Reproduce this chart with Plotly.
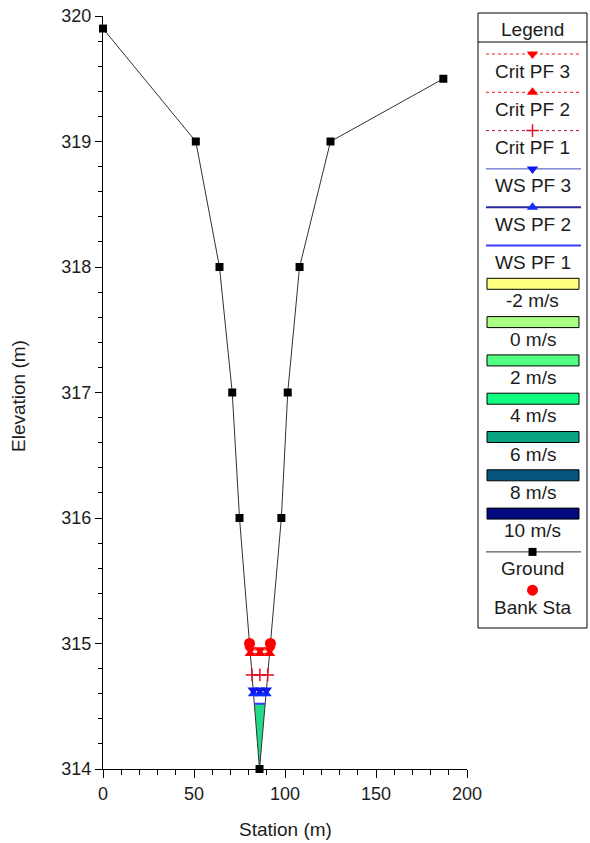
import numpy as np
import plotly.graph_objects as go

W, H = 590, 843

# Cross-section geometry
ground_station = [0, 51, 64, 71, 75, 86, 98, 101.5, 108, 125, 187]
ground_elev = [319.9, 319.0, 318.0, 317.0, 316.0, 314.0, 316.0, 317.0, 318.0, 319.0, 319.5]
bank_station = [80.5, 92.0]

# Computed water surfaces
ws_profiles = ["WS PF 1", "WS PF 2", "WS PF 3"]
ws_elev = [314.52, 314.60, 314.63]
crit_profiles = ["Crit PF 1", "Crit PF 2", "Crit PF 3"]
crit_elev = [314.75, 314.92, 314.95]

# Velocity colour scale
velocity_labels = ["-2 m/s", "0 m/s", "2 m/s", "4 m/s", "6 m/s", "8 m/s", "10 m/s"]
velocity_colors = ["#ffff80", "#a8ff80", "#50ff80", "#10ff80", "#08a482", "#05557f", "#020a7e"]
flow_fill_color = "#24d98a"

x_ticks = [0, 50, 100, 150, 200]
y_ticks = [314, 315, 316, 317, 318, 319, 320]

FONT = "Liberation Sans, Arial, Helvetica, sans-serif"
TXT = "#1c1c1c"
TICK_SIZE = 18
TEXT_SIZE = 19

gs = np.array(ground_station, dtype=float)
ge = np.array(ground_elev, dtype=float)
i0 = int(np.argmin(ge))


def wet_edges(z):
    left = np.interp(z, ge[:i0 + 1][::-1], gs[:i0 + 1][::-1])
    right = np.interp(z, ge[i0:], gs[i0:])
    return left, right


styles = {
    "Crit PF 3": dict(line=dict(color="#ff1010", width=1, dash="dot"),
                      marker=dict(symbol="triangle-down", size=10, color="#ff0000")),
    "Crit PF 2": dict(line=dict(color="#ff1010", width=1, dash="dot"),
                      marker=dict(symbol="triangle-up", size=10, color="#ff0000")),
    "Crit PF 1": dict(line=dict(color="#b0103c", width=1, dash="dot"),
                      marker=dict(symbol="cross-thin", size=9, color="#e01020",
                                  line=dict(color="#e01020", width=1.5))),
    "WS PF 3": dict(line=dict(color="#3848c0", width=1),
                    marker=dict(symbol="triangle-down", size=10, color="#1018e8")),
    "WS PF 2": dict(line=dict(color="#2a2aa0", width=2),
                    marker=dict(symbol="triangle-up", size=10, color="#1030ff")),
    "WS PF 1": dict(line=dict(color="#3c3cff", width=2), marker=None),
}

fig = go.Figure()

# Wetted area for the lowest profile
z1 = ws_elev[0]
l1, r1 = wet_edges(z1)
below = ge < z1
fx = [l1] + list(gs[below]) + [r1, l1]
fy = [z1] + list(ge[below]) + [z1, z1]
fig.add_trace(go.Scatter(x=fx, y=fy, mode="lines", fill="toself",
                         fillcolor=flow_fill_color, line=dict(width=0),
                         showlegend=False, hoverinfo="skip"))

# Ground profile
fig.add_trace(go.Scatter(x=ground_station, y=ground_elev, mode="lines+markers",
                         line=dict(color="#303030", width=1),
                         marker=dict(symbol="square", size=8, color="#000000"),
                         cliponaxis=False, showlegend=False))

# Water surface lines with end and mid markers
for name, z in list(zip(ws_profiles, ws_elev)) + list(zip(crit_profiles, crit_elev)):
    lft, rgt = wet_edges(z)
    st = styles[name]
    xs = [lft, (lft + rgt) / 2, rgt]
    ln = dict(st["line"])
    if "dash" in ln:
        ln["dash"] = "solid"
    if st["marker"] is None:
        fig.add_trace(go.Scatter(x=[lft, rgt], y=[z, z], mode="lines", line=ln,
                                 showlegend=False, cliponaxis=False))
    else:
        fig.add_trace(go.Scatter(x=xs, y=[z, z, z], mode="lines+markers", line=ln,
                                 marker=st["marker"], showlegend=False, cliponaxis=False))

# Bank stations
bank_elev = np.interp(bank_station, gs, ge)
fig.add_trace(go.Scatter(x=bank_station, y=bank_elev, mode="markers",
                         marker=dict(symbol="circle", size=11, color="#ff0000"),
                         cliponaxis=False, showlegend=False))

# ---- Legend panel (drawn on a pixel-space overlay axis) ----
legend_labels = ["Crit PF 3", "Crit PF 2", "Crit PF 1", "WS PF 3", "WS PF 2", "WS PF 1"] \
    + velocity_labels + ["Ground", "Bank Sta"]
lx0, lx1, ly0, ly1 = 478, 587, 13, 628
sx0, sx1 = 486, 581
cx = (lx0 + lx1) / 2
row0, step = 54, 38.3

shapes = [
    dict(type="rect", xref="x2", yref="y2", x0=lx0, x1=lx1, y0=ly0, y1=ly1,
         line=dict(color="#000", width=1), fillcolor="rgba(255,255,255,0)"),
    dict(type="line", xref="x2", yref="y2", x0=lx0, x1=lx1, y0=42, y1=42,
         line=dict(color="#000", width=1)),
]
annotations = [
    dict(xref="x2", yref="y2", x=cx, y=29, text="Legend", showarrow=False,
         font=dict(family=FONT, size=TEXT_SIZE, color=TXT)),
]

for i, lab in enumerate(legend_labels):
    y = row0 + step * i
    if lab in styles:
        st = styles[lab]
        fig.add_trace(go.Scatter(x=[sx0, sx1], y=[y, y], mode="lines", line=st["line"],
                                 xaxis="x2", yaxis="y2", showlegend=False, hoverinfo="skip"))
        if st["marker"] is not None:
            fig.add_trace(go.Scatter(x=[cx], y=[y], mode="markers", marker=st["marker"],
                                     xaxis="x2", yaxis="y2", showlegend=False, hoverinfo="skip"))
    elif lab in velocity_labels:
        col = velocity_colors[velocity_labels.index(lab)]
        shapes.append(dict(type="rect", xref="x2", yref="y2", x0=sx0 + 1, x1=sx1 - 2,
                           y0=y - 5.5, y1=y + 5.5, fillcolor=col,
                           line=dict(color="#000", width=1)))
    elif lab == "Ground":
        fig.add_trace(go.Scatter(x=[sx0, sx1], y=[y, y], mode="lines",
                                 line=dict(color="#303030", width=1),
                                 xaxis="x2", yaxis="y2", showlegend=False, hoverinfo="skip"))
        fig.add_trace(go.Scatter(x=[cx], y=[y], mode="markers",
                                 marker=dict(symbol="square", size=8, color="#000"),
                                 xaxis="x2", yaxis="y2", showlegend=False, hoverinfo="skip"))
    else:
        fig.add_trace(go.Scatter(x=[cx], y=[y], mode="markers",
                                 marker=dict(symbol="circle", size=11, color="#ff0000"),
                                 xaxis="x2", yaxis="y2", showlegend=False, hoverinfo="skip"))
    annotations.append(dict(xref="x2", yref="y2", x=cx, y=y + 17, text=lab,
                            showarrow=False, font=dict(family=FONT, size=TEXT_SIZE, color=TXT)))

# Axis titles
annotations.append(dict(xref="x2", yref="y2", x=285, y=829, text="Station (m)",
                        showarrow=False, font=dict(family=FONT, size=TEXT_SIZE, color=TXT)))
annotations.append(dict(xref="x2", yref="y2", x=18, y=396, text="Elevation (m)",
                        textangle=-90, showarrow=False,
                        font=dict(family=FONT, size=TEXT_SIZE, color=TXT)))

px0, px1, py0, py1 = 103, 467, 16, 769
fig.update_layout(
    width=W, height=H,
    margin=dict(l=0, r=0, t=0, b=0),
    paper_bgcolor="white", plot_bgcolor="rgba(0,0,0,0)",
    showlegend=False,
    shapes=shapes, annotations=annotations,
    xaxis=dict(domain=[px0 / W, px1 / W], range=[0, 200], tickvals=x_ticks,
               automargin=False,
               showline=True, linecolor="#000", linewidth=1, mirror=False,
               ticks="outside", ticklen=8, tickcolor="#000", showgrid=False, zeroline=False,
               tickfont=dict(family=FONT, size=TICK_SIZE, color=TXT), anchor="y",
               minor=dict(dtick=10, ticks="outside", ticklen=5, tickcolor="#000", showgrid=False)),
    yaxis=dict(domain=[1 - py1 / H, 1 - py0 / H], range=[314, 320], tickvals=y_ticks,
               automargin=False,
               showline=True, linecolor="#000", linewidth=1, mirror=False,
               ticks="outside", ticklen=7, tickcolor="#000", showgrid=False, zeroline=False,
               tickfont=dict(family=FONT, size=TICK_SIZE, color=TXT), anchor="x",
               minor=dict(dtick=0.2, ticks="outside", ticklen=4, tickcolor="#000", showgrid=False)),
    xaxis2=dict(domain=[0, 1], range=[0, W], visible=False, anchor="y2", fixedrange=True,
                automargin=False),
    yaxis2=dict(domain=[0, 1], range=[H, 0], visible=False, anchor="x2", fixedrange=True,
                automargin=False),
)

fig.write_html("out.html")
